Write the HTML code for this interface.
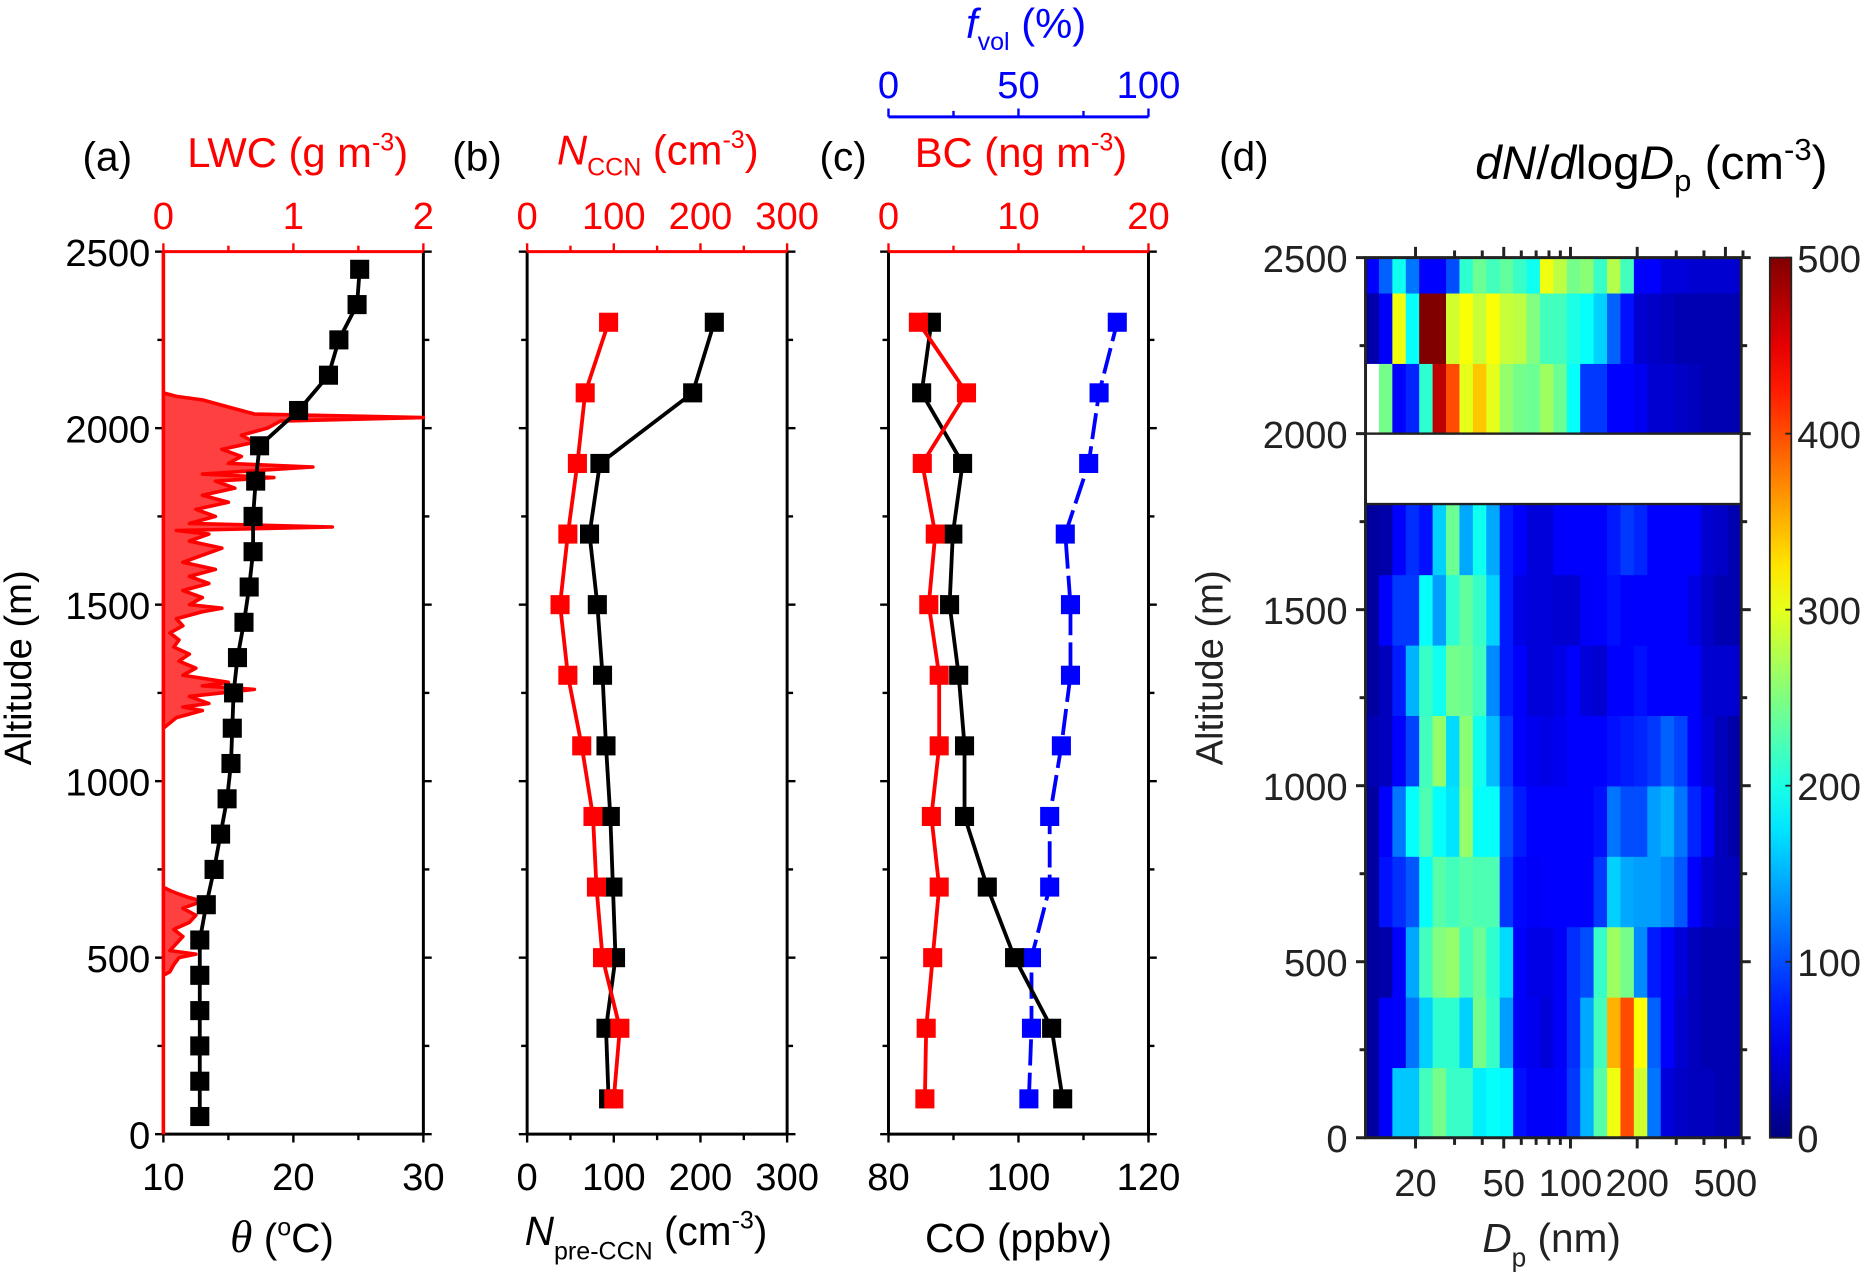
<!DOCTYPE html>
<html><head><meta charset="utf-8"><style>
html,body{margin:0;padding:0;background:#fff;}
svg{display:block;font-family:"Liberation Sans",Arial,sans-serif;}
</style></head><body>
<svg id="chart" width="1870" height="1278" viewBox="0 0 1568 1071.6" xmlns="http://www.w3.org/2000/svg">
<g id="root"></g>
</svg>
<script>
// ---------- data ----------
const thetaAlt = [50,150,250,350,450,550,650,750,850,950,1050,1150,1250,1350,1450,1550,1650,1750,1850,1950,2050,2150,2250,2350,2450];
const thetaVal = [12.8,12.8,12.8,12.8,12.8,12.8,13.3,13.9,14.4,14.9,15.2,15.3,15.4,15.7,16.2,16.6,16.9,16.9,17.1,17.4,20.4,22.7,23.5,24.9,25.1];
const lwcAlt = [0,450,460,480,500,510,520,540,560,580,600,620,640,660,670,680,690,700,1150,1180,1200,1210,1220,1240,1260,1270,1280,1300,1320,1340,1360,1380,1400,1420,1440,1460,1480,1490,1500,1520,1540,1560,1580,1600,1620,1640,1660,1680,1700,1710,1720,1730,1750,1770,1790,1810,1830,1850,1860,1870,1890,1900,1920,1940,1960,1980,2000,2020,2030,2040,2060,2080,2090,2100,2500];
const lwcVal = [0,0,0.05,0.08,0.12,0.25,0.05,0.1,0.15,0.08,0.2,0.25,0.15,0.3,0.2,0.12,0.05,0,0,0.1,0.3,0.15,0.35,0.2,0.7,0.3,0.5,0.15,0.25,0.12,0.2,0.08,0.12,0.05,0.15,0.1,0.3,0.45,0.2,0.3,0.15,0.35,0.2,0.4,0.15,0.3,0.45,0.2,0.35,0.1,1.3,0.2,0.4,0.25,0.5,0.3,0.55,0.4,0.85,0.3,1.15,0.5,0.6,0.45,0.7,0.6,0.8,0.9,2.0,0.7,0.5,0.3,0.1,0,0];
const binAlt = [100,300,500,700,900,1100,1300,1500,1700,1900,2100,2300];
const nccnVal = [100,107,87,80,76,63,47,38,47,58,67,94];
const npreVal = [94,91,102,99,96,91,87,81,72,84,191,216];
const coVal = [106.8,105.1,99.4,95.2,91.7,91.7,90.8,89.4,89.9,91.4,85.1,86.6];
const bcVal = [2.8,2.9,3.4,3.9,3.3,3.9,3.9,3.1,3.6,2.6,6.0,2.3];
const fvolVal = [54,55,55,62,62,66.5,70,70,68,77,81,88];
const rowLo = [0,200,400,600,800,1000,1200,1400,1600,2000,2200,2400];
const rowHi = [200,400,600,800,1000,1200,1400,1600,1800,2200,2400,2500];
const dNdlogDp = [
[15,60,160,160,220,245,215,215,180,190,185,70,60,60,62,90,150,230,305,400,290,120,45,35,30,30,25,25],
[15,60,62,120,165,210,210,165,245,215,140,60,55,45,60,85,145,220,350,400,310,110,62,40,30,25,25,25],
[15,20,62,145,220,250,260,220,240,210,170,62,50,50,60,85,100,215,265,245,130,75,62,45,30,25,25,25],
[15,70,85,105,190,230,220,230,225,225,90,65,60,62,62,62,62,90,165,145,140,140,130,105,62,40,30,30],
[15,62,120,190,225,190,175,260,190,190,100,75,62,62,62,62,62,70,120,100,100,140,150,120,80,62,30,20],
[25,30,62,95,220,260,170,255,195,155,90,62,55,50,55,62,62,62,70,75,80,90,110,95,62,45,30,20],
[15,30,75,150,215,195,245,240,220,130,75,62,45,45,50,62,45,40,62,62,70,62,62,62,62,40,40,40],
[15,62,90,90,190,140,210,235,215,165,75,50,45,45,40,40,60,62,70,62,62,62,62,62,50,35,25,25],
[15,20,62,85,70,165,240,145,195,145,75,62,45,45,62,62,62,62,75,90,80,62,62,62,62,40,35,25],
[null,245,62,80,210,470,400,300,340,300,260,245,240,265,240,190,90,90,62,62,55,40,40,35,30,25,25,25],
[20,60,305,190,500,500,290,310,285,310,285,280,250,220,220,200,190,165,110,70,40,35,30,25,25,25,25,25],
[62,110,195,120,62,62,100,210,240,220,235,215,195,305,280,245,255,215,275,220,62,62,45,45,40,40,40,40]
];
const dpMin = 11.9, dpMax = 589;
const dpTickLabels = [20,50,100,200,500];
const altTicks = [0,500,1000,1500,2000,2500];
const cbTicks = [0,100,200,300,400,500];

// ---------- helpers ----------
const NS='http://www.w3.org/2000/svg';
const root=document.getElementById('root');
function mk(tag,attrs,parent){const e=document.createElementNS(NS,tag);for(const k in attrs)e.setAttribute(k,attrs[k]);(parent||root).appendChild(e);return e;}
function txt(x,y,s,size,fill,anchor,parent){const t=mk('text',{x:x,y:y,'font-size':size,fill:fill,'text-anchor':anchor||'middle'},parent);t.textContent=s;return t;}
const TOP=211,BOT=951;
function yA(a){return BOT-a/2500*(BOT-TOP);}
function lin(d0,d1,p0,p1){return v=>p0+(v-d0)/(d1-d0)*(p1-p0);}
function jet(v){const t=Math.max(0,Math.min(1,v/500));const c=x=>Math.round(255*Math.max(0,Math.min(1,1.5-Math.abs(4*t-x))));return `rgb(${c(3)},${c(2)},${c(1)})`;}

function panelFrame(name,x0,x1,leftColor,topColor){
  const g=mk('g',{});
  
  
  mk('line',{x1:x0,y1:TOP,x2:x0,y2:BOT,stroke:leftColor,'stroke-width':2.5},g);
  mk('line',{x1:x1,y1:TOP,x2:x1,y2:BOT,stroke:'#000','stroke-width':2.5},g);
  mk('line',{x1:x0,y1:BOT,x2:x1,y2:BOT,stroke:'#000','stroke-width':2.5},g);
  mk('line',{x1:x0,y1:TOP,x2:x1,y2:TOP,stroke:topColor,'stroke-width':2.5},g);
  for(let a=0;a<=2500;a+=250){const y=yA(a);const L=a%500===0?7:5;
    mk('line',{x1:x0-L,y1:y,x2:x0,y2:y,stroke:'#000','stroke-width':2},g);
    mk('line',{x1:x1,y1:y,x2:x1+L,y2:y,stroke:'#000','stroke-width':2},g);}
  return g;
}
function xTicks(g,sc,vals,minor,y,dir,color,labels,labY,size){
  vals.forEach(v=>{mk('line',{x1:sc(v),y1:y,x2:sc(v),y2:y+dir*7,stroke:color,'stroke-width':2},g);});
  minor.forEach(v=>{mk('line',{x1:sc(v),y1:y,x2:sc(v),y2:y+dir*5,stroke:color,'stroke-width':2},g);});
  if(labels) vals.forEach((v,i)=>{const t=txt(sc(v),labY,labels[i],size,color,'middle',g);
    
    });
}
function series(g,xs,ys,color,name,dash){
  const s=mk('g',{},g);
  
  
  mk('polyline',{points:xs.map((x,i)=>x+','+ys[i]).join(' '),fill:'none',stroke:color,'stroke-width':3.2,'stroke-dasharray':dash||'none'},s);
  xs.forEach((x,i)=>{const r=mk('rect',{x:x-8,y:ys[i]-8,width:16,height:16,fill:color},s);
    
    });
}

// ---------- panel a ----------
{
  const x0=137,x1=355;
  const sx=lin(10,30,x0,x1), sl=lin(0,2,x0,x1);
  const g=panelFrame('panel-a',x0,x1,'#f00','#f00');
  const tr=mk('polygon',{points:x0+','+yA(0)+' '+lwcAlt.map((a,i)=>sl(lwcVal[i])+','+yA(a)).join(' ')+' '+x0+','+yA(2500),fill:'#f00','fill-opacity':0.75,stroke:'#f00','stroke-width':3,'stroke-linejoin':'round'},g);
  
  
  series(g,thetaVal.map(sx),thetaAlt.map(yA),'#000','theta-series');
  xTicks(g,sx,[10,20,30],[15,25],BOT,1,'#000',['10','20','30'],998,32);
  xTicks(g,sl,[0,1,2],[0.5,1.5],TOP,-1,'#f00',['0','1','2'],192,32);
  altTicks.forEach(a=>{const t=txt(126,yA(a)+12,String(a),32,'#000','end',g);
    
    });
  const yt=txt(0,0,'Altitude (m)',32,'#000','middle',g);yt.setAttribute('transform','translate(26,560) rotate(-90)');
  
  
  const p=txt(90,143,'(a)',34,'#000','middle',g);
  
  
  const lt=mk('text',{x:157,y:140,'font-size':35,fill:'#f00'},g);lt.innerHTML='LWC (g m<tspan dy="-14" font-size="21">-3</tspan><tspan dy="14">)</tspan>';
  
  
  const bt=mk('text',{x:193,y:1050,'font-size':34,fill:'#000'},g);bt.innerHTML='<tspan font-family="Liberation Serif" font-style="italic" font-size="38">θ</tspan>  (<tspan dy="-14" font-size="21">o</tspan><tspan dy="14">C)</tspan>';
  
  
}
// ---------- panel b ----------
{
  const x0=442,x1=660;
  const sx=lin(0,300,x0,x1);
  const g=panelFrame('panel-b',x0,x1,'#000','#f00');
  series(g,npreVal.map(sx),binAlt.map(yA),'#000','npre-ccn-series');
  series(g,nccnVal.map(sx),binAlt.map(yA),'#f00','nccn-series');
  xTicks(g,sx,[0,100,200,300],[50,150,250],BOT,1,'#000',['0','100','200','300'],998,32);
  xTicks(g,sx,[0,100,200,300],[50,150,250],TOP,-1,'#f00',['0','100','200','300'],192,32);
  const p=txt(400,143,'(b)',34,'#000','middle',g);
  
  
  const lt=mk('text',{x:467,y:138,'font-size':35,fill:'#f00'},g);lt.innerHTML='<tspan font-style="italic">N</tspan><tspan dy="9" font-size="21">CCN</tspan><tspan dy="-9"> (cm</tspan><tspan dy="-14" font-size="21">-3</tspan><tspan dy="14">)</tspan>';
  
  
  const bt=mk('text',{x:440,y:1044,'font-size':34,fill:'#000'},g);bt.innerHTML='<tspan font-style="italic">N</tspan><tspan dy="12" font-size="21">pre-CCN</tspan><tspan dy="-12">  (cm</tspan><tspan dy="-14" font-size="21">-3</tspan><tspan dy="14">)</tspan>';
  
  
}
// ---------- panel c ----------
{
  const x0=745,x1=963;
  const sc=lin(80,120,x0,x1), sb=lin(0,20,x0,x1), sf=lin(0,100,x0,x1);
  const g=panelFrame('panel-c',x0,x1,'#000','#f00');
  series(g,fvolVal.map(sf),binAlt.map(yA),'#00f','fvol-series','22 6');
  series(g,coVal.map(sc),binAlt.map(yA),'#000','co-series');
  series(g,bcVal.map(sb),binAlt.map(yA),'#f00','bc-series');
  xTicks(g,sc,[80,100,120],[90,110],BOT,1,'#000',['80','100','120'],998,32);
  xTicks(g,sb,[0,10,20],[5,15],TOP,-1,'#f00',['0','10','20'],192,32);
  mk('line',{x1:x0,y1:98,x2:x1,y2:98,stroke:'#00f','stroke-width':2.5},g);
  xTicks(g,sf,[0,50,100],[25,75],98,-1,'#00f',['0','50','100'],82,32);
  const p=txt(707,143,'(c)',34,'#000','middle',g);
  
  
  const lt=mk('text',{x:767,y:140,'font-size':35,fill:'#f00'},g);lt.innerHTML='BC (ng m<tspan dy="-14" font-size="21">-3</tspan><tspan dy="14">)</tspan>';
  
  
  const ft=mk('text',{x:810,y:32,'font-size':35,fill:'#00f'},g);ft.innerHTML='<tspan font-style="italic">f</tspan><tspan dy="10" font-size="21">vol</tspan><tspan dy="-10"> (%)</tspan>';
  
  
  const bt=txt(854,1050,'CO (ppbv)',34,'#000','middle',g);
  
  
}
// ---------- panel d ----------
{
  const x0=1145,x1=1460,T=216,B=954;
  const yD=a=>B-a/2500*(B-T);
  const lx=lin(Math.log10(dpMin),Math.log10(dpMax),x0,x1);
  const sx=d=>lx(Math.log10(d));
  const g=mk('g',{});
  
  
  const nc=dNdlogDp[0].length;
  const lmin=Math.log10(dpMin), lmax=Math.log10(dpMax);
  dNdlogDp.forEach((row,r)=>{row.forEach((v,c)=>{ if(v===null) return;
    const d0=Math.pow(10,lmin+(lmax-lmin)*c/nc), d1=Math.pow(10,lmin+(lmax-lmin)*(c+1)/nc);
    const cell=mk('rect',{x:sx(d0),y:yD(rowHi[r]),width:sx(d1)-sx(d0)+0.6,height:yD(rowLo[r])-yD(rowHi[r])+0.6,fill:jet(v)},g);
    
    });});
  mk('rect',{x:x0,y:yD(2000),width:x1-x0,height:yD(1800)-yD(2000),fill:'#fff',stroke:'#222','stroke-width':2},g);
  mk('rect',{x:x0,y:T,width:x1-x0,height:B-T,fill:'none',stroke:'#222','stroke-width':2.5},g);
  for(let a=0;a<=2500;a+=250){const y=yD(a);const L=a%500===0?8:5;
    mk('line',{x1:x0-L,y1:y,x2:x0,y2:y,stroke:'#222','stroke-width':2.5},g);
    mk('line',{x1:x1,y1:y,x2:x1+L,y2:y,stroke:'#222','stroke-width':2.5},g);}
  const mt=[20,30,40,50,60,70,80,90,100,200,300,400,500,600];
  mt.forEach(d=>{const L=[20,50,100,200,500].includes(d)?9:6;
    mk('line',{x1:sx(d),y1:B,x2:sx(d),y2:B+L,stroke:'#222','stroke-width':2.5},g);
    mk('line',{x1:sx(d),y1:T,x2:sx(d),y2:T-L,stroke:'#222','stroke-width':2.5},g);});
  dpTickLabels.forEach(d=>{const t=txt(sx(d),1003,String(d),32,'#222','middle',g);
    
    });
  altTicks.forEach(a=>{const t=txt(1130,yD(a)+12,String(a),32,'#222','end',g);
    
    });
  const yt=txt(0,0,'Altitude (m)',32,'#222','middle',g);yt.setAttribute('transform','translate(1025,560) rotate(-90)');
  
  
  const p=txt(1043,143,'(d)',34,'#000','middle',g);
  
  
  const ct=mk('text',{x:1237,y:150,'font-size':40,fill:'#000'},g);ct.innerHTML='<tspan font-style="italic">dN</tspan>/<tspan font-style="italic">d</tspan>log<tspan font-style="italic">D</tspan><tspan dy="10" font-size="26">p</tspan><tspan dy="-10"> (cm</tspan><tspan dy="-16" font-size="26">-3</tspan><tspan dy="16">)</tspan>';
  
  
  const bt=mk('text',{x:1243,y:1050,'font-size':34,fill:'#222'},g);bt.innerHTML='<tspan font-style="italic">D</tspan><tspan dy="12" font-size="22">p</tspan><tspan dy="-12"> (nm)</tspan>';
  
  
  // colorbar
  const defs=mk('defs',{},g);
  const lg=mk('linearGradient',{id:'jetg',x1:0,y1:1,x2:0,y2:0},defs);
  for(let i=0;i<=20;i++) mk('stop',{offset:(i/20),'stop-color':jet(i*25)},lg);
  const cb=mk('rect',{x:1484,y:T,width:18,height:B-T,fill:'url(#jetg)',stroke:'#222','stroke-width':1.5},g);
  
  
  const cs=lin(0,500,B,T);
  cbTicks.forEach(v=>{mk('line',{x1:1502,y1:cs(v),x2:1497,y2:cs(v),stroke:'#222','stroke-width':1.5},g);
    const t=txt(1507,cs(v)+12,String(v),32,'#222','start',g);
    
    });
}
</script>
</body></html>
